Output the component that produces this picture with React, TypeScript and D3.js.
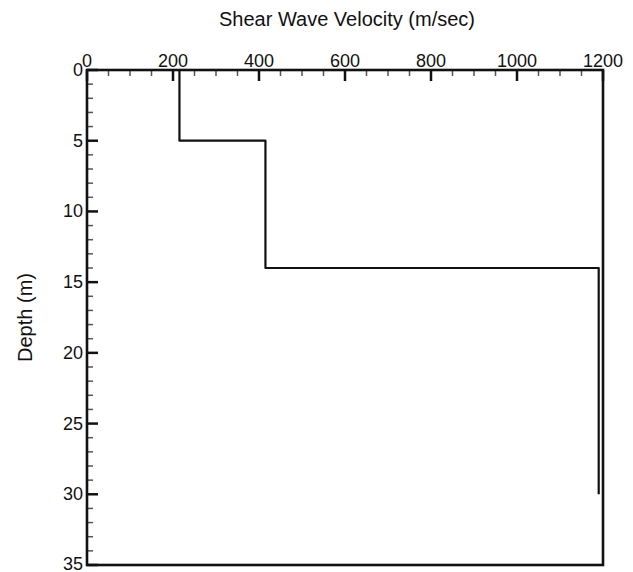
import React from "react";
import * as d3 from "d3";

const layerTop = [0, 5, 14];
const layerBottom = [5, 14, 30];
const velocity = [215, 415, 1190];
const xTicks = [0, 200, 400, 600, 800, 1000, 1200];
const yTicks = [0, 5, 10, 15, 20, 25, 30, 35];
const xTitle = "Shear Wave Velocity (m/sec)";
const yTitle = "Depth (m)";

const W = 633;
const H = 572;
const M = { left: 87, top: 70, right: 603, bottom: 565 };

export default function App() {
  const x = d3.scaleLinear().domain([0, 1200]).range([M.left, M.right]);
  const y = d3.scaleLinear().domain([0, 35]).range([M.top, M.bottom]);

  const pts: [number, number][] = [];
  velocity.forEach((v, i) => {
    pts.push([v, layerTop[i]]);
    pts.push([v, layerBottom[i]]);
  });
  const line = d3
    .line<[number, number]>()
    .x((d) => x(d[0]))
    .y((d) => y(d[1]));

  const xMinor = d3.range(0, 1201, 50).filter((v) => v % 200 !== 0);
  const yMinor = d3.range(0, 36, 1).filter((v) => v % 5 !== 0);
  const font = "Arial, 'Liberation Sans', Helvetica, sans-serif";

  return (
    <div style={{ position: "absolute", left: 0, top: 0, width: W, height: H, background: "#fff" }}>
      <svg width={W} height={H} style={{ display: "block" }} fontFamily={font}>
        <rect width={W} height={H} fill="#fff" />
        {/* minor ticks */}
        {xMinor.map((v) => (
          <line key={"xm" + v} x1={x(v)} x2={x(v)} y1={M.top} y2={M.top + 6} stroke="#555" strokeWidth={1.5} />
        ))}
        {yMinor.map((v) => (
          <line key={"ym" + v} x1={M.left} x2={M.left + 6} y1={y(v)} y2={y(v)} stroke="#555" strokeWidth={1.5} />
        ))}
        {/* major ticks */}
        {xTicks.map((v) => (
          <line key={"xM" + v} x1={x(v)} x2={x(v)} y1={M.top} y2={M.top + 11} stroke="#111" strokeWidth={2.5} />
        ))}
        {yTicks.map((v) => (
          <line key={"yM" + v} x1={M.left} x2={M.left + 11} y1={y(v)} y2={y(v)} stroke="#111" strokeWidth={2.5} />
        ))}
        {/* frame */}
        <rect
          x={M.left}
          y={M.top}
          width={M.right - M.left}
          height={M.bottom - M.top}
          fill="none"
          stroke="#111"
          strokeWidth={2.6}
        />
        {/* data */}
        <path d={line(pts) || ""} fill="none" stroke="#111" strokeWidth={2.2} strokeLinejoin="round" />
        {/* tick labels */}
        {xTicks.map((v) => (
          <text key={"xl" + v} x={x(v)} y={M.top - 3} textAnchor="middle" fontSize={18} fill="#111">
            {v}
          </text>
        ))}
        {yTicks.map((v) => (
          <text
            key={"yl" + v}
            x={M.left - 4}
            y={v === 35 ? y(v) - 1 : y(v)}
            textAnchor="end"
            dominantBaseline="central"
            fontSize={18}
            fill="#111"
          >
            {v}
          </text>
        ))}
        {/* titles */}
        <text x={(M.left + M.right) / 2 + 2} y={26} textAnchor="middle" fontSize={20} fill="#111">
          {xTitle}
        </text>
        <text
          transform={`translate(32, ${(M.top + M.bottom) / 2}) rotate(-90)`}
          textAnchor="middle"
          fontSize={20}
          fill="#111"
        >
          {yTitle}
        </text>
      </svg>
    </div>
  );
}
